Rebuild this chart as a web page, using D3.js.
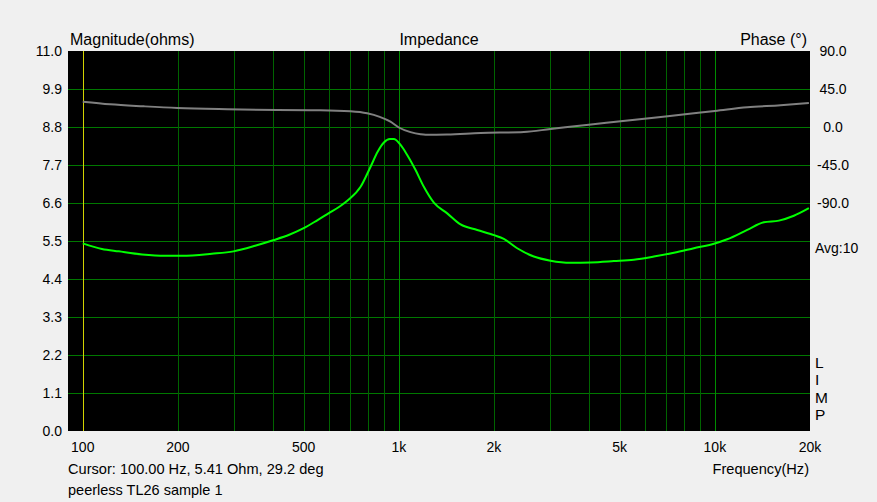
<!DOCTYPE html>
<html>
<head>
<meta charset="utf-8">
<script src="https://cdn.jsdelivr.net/npm/d3@7"></script>
<style>
  html, body { margin: 0; padding: 0; background: #f0f0f0; }
  svg { display: block; }
  text { font-family: "Liberation Sans", Arial, sans-serif; fill: #000; }
</style>
</head>
<body>
<svg id="chart" width="877" height="502"></svg>
<script>
// ---- data ----
const magFreq = [100, 115, 130, 154, 182, 206, 256, 300, 351, 400, 450, 500, 552, 599, 650, 690, 757, 814, 858, 897, 937, 964, 1013, 1063, 1129, 1200, 1291, 1423, 1568, 1771, 2000, 2149, 2369, 2674, 3021, 3495, 4043, 4791, 5541, 6412, 7420, 8582, 9927, 10940, 12660, 14290, 15940, 17780, 19840];
const magOhm  = [5.43, 5.27, 5.20, 5.11, 5.07, 5.07, 5.13, 5.20, 5.36, 5.52, 5.68, 5.87, 6.10, 6.30, 6.50, 6.68, 7.07, 7.65, 8.09, 8.35, 8.45, 8.45, 8.28, 7.99, 7.56, 7.07, 6.61, 6.30, 5.98, 5.82, 5.67, 5.56, 5.29, 5.05, 4.93, 4.87, 4.88, 4.92, 4.96, 5.05, 5.16, 5.29, 5.42, 5.55, 5.82, 6.04, 6.09, 6.23, 6.45];
const phFreq  = [100, 122, 156, 199, 286, 412, 565, 703, 794, 870, 941, 1000, 1089, 1172, 1215, 1422, 1814, 2487, 3020, 3990, 5030, 6412, 8180, 10000, 12660, 16140, 19840];
const phDeg   = [30.0, 26.9, 24.5, 22.5, 21.0, 20.1, 19.8, 18.6, 16.2, 12.0, 6.3, -0.6, -6.1, -8.6, -9.1, -8.8, -7.1, -5.9, -2.4, 2.7, 6.7, 11.0, 15.4, 18.9, 23.3, 25.7, 28.4];
const magTicks = [0.0, 1.1, 2.2, 3.3, 4.4, 5.5, 6.6, 7.7, 8.8, 9.9, 11.0];
const phTicks  = [90, 45, 0, -45, -90];
const freqTickVals = [100, 200, 500, 1000, 2000, 5000, 10000, 20000];
const freqTickLabels = ["100", "200", "500", "1k", "2k", "5k", "10k", "20k"];
const gridFreqs = [200, 300, 400, 500, 600, 700, 800, 900, 1000, 2000, 3000, 4000, 5000, 6000, 7000, 8000, 9000, 10000];
const cursorFreq = 100;
const title = "Impedance";
const leftTitle = "Magnitude(ohms)";
const rightTitle = "Phase (°)";
const cursorText = "Cursor: 100.00 Hz, 5.41 Ohm, 29.2 deg";
const seriesName = "peerless TL26 sample 1";
const xTitle = "Frequency(Hz)";
const avgText = "Avg:10";
const sideLetters = ["L", "I", "M", "P"];

// ---- layout ----
const L = 68, R = 810, T = 51, B = 431;
const svg = d3.select("#chart");

const x = d3.scaleLog().domain([89.8, 20000]).range([L, R]);
const yMag = d3.scaleLinear().domain([0, 11]).range([B, T]);
const yPh = d3.scaleLinear().domain([-360, 90]).range([B, T]);

// plot background
svg.append("rect").attr("x", L).attr("y", T).attr("width", R - L).attr("height", B - T).attr("fill", "#000");

// horizontal grid
svg.append("g").selectAll("line").data(magTicks.filter(v => v > 0 && v < 11)).join("line")
  .attr("x1", L).attr("x2", R)
  .attr("y1", d => Math.round(yMag(d)) + 0.5).attr("y2", d => Math.round(yMag(d)) + 0.5)
  .attr("stroke", "#007800").attr("stroke-width", 1);

// vertical grid
svg.append("g").selectAll("line").data(gridFreqs).join("line")
  .attr("x1", d => Math.round(x(d)) + 0.5).attr("x2", d => Math.round(x(d)) + 0.5)
  .attr("y1", T).attr("y2", B)
  .attr("stroke", d => (d === 1000 || d === 10000) ? "#008c00" : "#006400").attr("stroke-width", 1);

// cursor line
svg.append("line")
  .attr("x1", Math.round(x(cursorFreq)) + 0.5).attr("x2", Math.round(x(cursorFreq)) + 0.5)
  .attr("y1", T).attr("y2", B).attr("stroke", "#d2d200").attr("stroke-width", 1);

// curves
const phLine = d3.line().x((d, i) => x(phFreq[i])).y(d => yPh(d)).curve(d3.curveMonotoneX);
svg.append("path").attr("d", phLine(phDeg)).attr("fill", "none").attr("stroke", "#808080").attr("stroke-width", 2);

const magLine = d3.line().x((d, i) => x(magFreq[i])).y(d => yMag(d)).curve(d3.curveMonotoneX);
svg.append("path").attr("d", magLine(magOhm)).attr("fill", "none").attr("stroke", "#00ff00").attr("stroke-width", 2);

// left axis labels
svg.append("g").selectAll("text").data(magTicks).join("text")
  .attr("x", 62).attr("y", d => yMag(d)).attr("dy", "0.36em")
  .attr("text-anchor", "end").style("font-size", "14px")
  .text(d => d.toFixed(1));

// right axis labels
svg.append("g").selectAll("text").data(phTicks).join("text")
  .attr("x", 833).attr("y", d => yPh(d)).attr("dy", "0.36em")
  .attr("text-anchor", "middle").style("font-size", "14px")
  .text(d => d.toFixed(1));

// x axis labels
svg.append("g").selectAll("text").data(freqTickVals).join("text")
  .attr("x", d => x(d)).attr("y", 452)
  .attr("text-anchor", "middle").style("font-size", "14px")
  .text((d, i) => freqTickLabels[i]);

// titles
svg.append("text").attr("x", 70).attr("y", 45).style("font-size", "16px").text(leftTitle);
svg.append("text").attr("x", 439).attr("y", 45).attr("text-anchor", "middle").style("font-size", "16px").text(title);
svg.append("text").attr("x", 807).attr("y", 45).attr("text-anchor", "end").style("font-size", "16px").text(rightTitle);

svg.append("text").attr("x", 68).attr("y", 474).style("font-size", "14.6px").text(cursorText);
svg.append("text").attr("x", 68).attr("y", 495).style("font-size", "14.5px").text(seriesName);
svg.append("text").attr("x", 809).attr("y", 474).attr("text-anchor", "end").style("font-size", "14.6px").text(xTitle);

svg.append("text").attr("x", 815).attr("y", 253).style("font-size", "14px").text(avgText);
svg.append("g").selectAll("text").data(sideLetters).join("text")
  .attr("x", 815).attr("y", (d, i) => 368 + i * 17.3)
  .style("font-size", "15.5px").text(d => d);
</script>
</body>
</html>
